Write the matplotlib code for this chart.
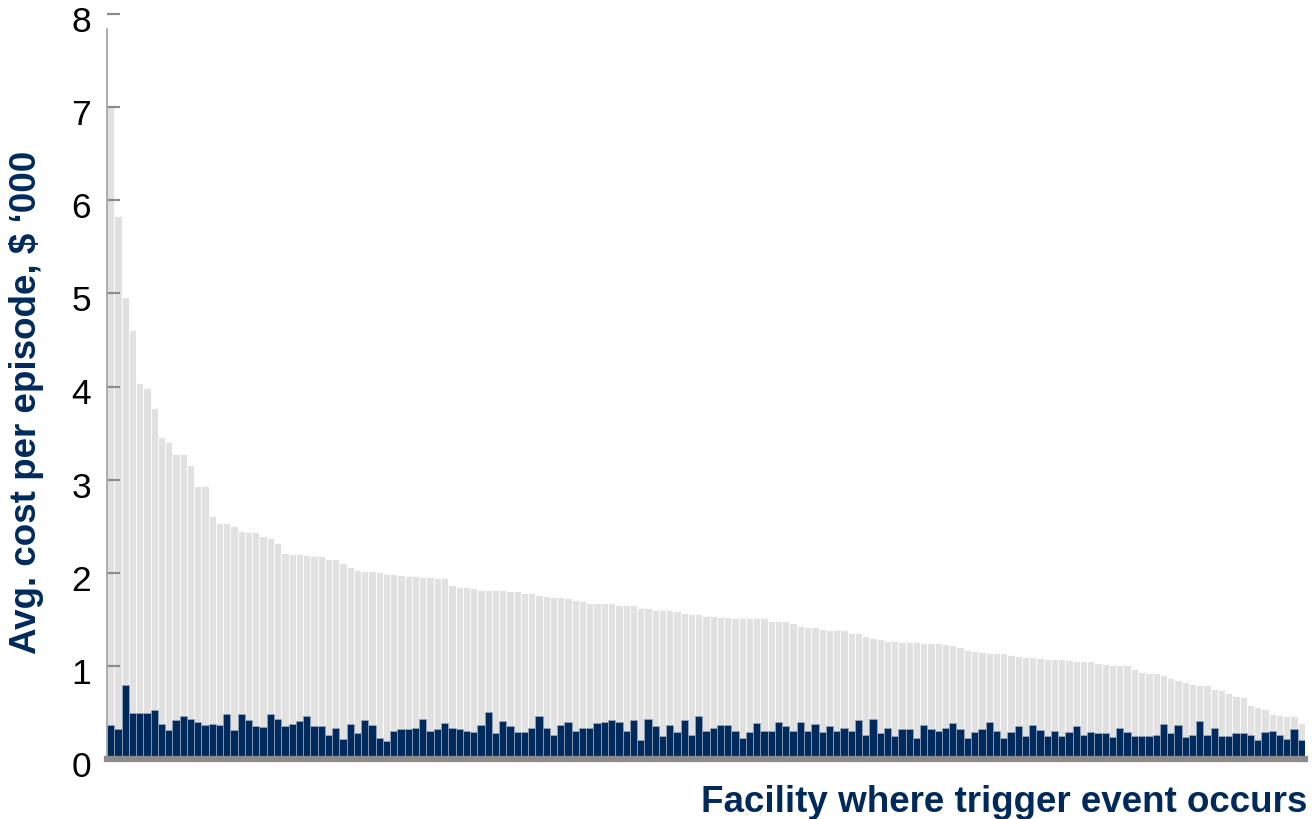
import matplotlib
matplotlib.use("Agg")
import matplotlib.pyplot as plt
import matplotlib.transforms as mtransforms
import numpy as np

# Average cost per episode ($ '000) by facility, sorted descending
total_cost = [7.02, 5.83, 4.96, 4.61, 4.04, 3.98, 3.77, 3.46, 3.40, 3.28, 3.28, 3.16, 2.93, 2.93,
              2.61, 2.53, 2.53, 2.50, 2.45, 2.44, 2.44, 2.39, 2.37, 2.32, 2.21, 2.20, 2.20, 2.19,
              2.18, 2.18, 2.15, 2.15, 2.105, 2.06, 2.03, 2.02, 2.02, 2.01, 1.99, 1.99, 1.98, 1.965,
              1.965, 1.95, 1.95, 1.94, 1.94, 1.87, 1.85, 1.85, 1.84, 1.82, 1.82, 1.82, 1.81, 1.80,
              1.80, 1.78, 1.78, 1.765, 1.75, 1.74, 1.74, 1.726, 1.71, 1.70, 1.68, 1.68, 1.68, 1.67,
              1.65, 1.65, 1.65, 1.625, 1.625, 1.60, 1.60, 1.60, 1.59, 1.57, 1.56, 1.56, 1.54, 1.54,
              1.53, 1.53, 1.51, 1.51, 1.51, 1.51, 1.51, 1.485, 1.485, 1.485, 1.46, 1.43, 1.42, 1.42,
              1.40, 1.386, 1.386, 1.386, 1.35, 1.35, 1.32, 1.30, 1.29, 1.27, 1.27, 1.26, 1.26, 1.26,
              1.246, 1.246, 1.246, 1.235, 1.22, 1.20, 1.17, 1.16, 1.15, 1.135, 1.135, 1.135, 1.12,
              1.106, 1.09, 1.09, 1.085, 1.077, 1.077, 1.077, 1.063, 1.053, 1.05, 1.05, 1.035, 1.02,
              1.006, 1.006, 1.006, 0.963, 0.934, 0.92, 0.92, 0.906, 0.866, 0.852, 0.823, 0.81, 0.795,
              0.795, 0.752, 0.737, 0.709, 0.68, 0.666, 0.583, 0.555, 0.54, 0.487, 0.47, 0.458, 0.458,
              0.39]

trigger_cost = [0.36, 0.32, 0.80, 0.49, 0.49, 0.49, 0.53, 0.38, 0.31, 0.42, 0.46, 0.43, 0.40, 0.36,
                0.38, 0.36, 0.48, 0.31, 0.48, 0.42, 0.35, 0.34, 0.48, 0.43, 0.35, 0.38, 0.405, 0.46,
                0.35, 0.35, 0.26, 0.33, 0.22, 0.38, 0.28, 0.42, 0.36, 0.23, 0.19, 0.30, 0.32, 0.32,
                0.33, 0.43, 0.30, 0.32, 0.39, 0.33, 0.32, 0.30, 0.29, 0.36, 0.50, 0.28, 0.405, 0.35,
                0.29, 0.29, 0.33, 0.46, 0.33, 0.26, 0.36, 0.40, 0.30, 0.33, 0.33, 0.39, 0.40, 0.415,
                0.40, 0.30, 0.415, 0.20, 0.43, 0.35, 0.25, 0.37, 0.29, 0.415, 0.26, 0.46, 0.30, 0.33,
                0.36, 0.36, 0.30, 0.23, 0.29, 0.39, 0.30, 0.30, 0.40, 0.35, 0.30, 0.40, 0.30, 0.376,
                0.29, 0.35, 0.30, 0.33, 0.30, 0.415, 0.26, 0.43, 0.276, 0.33, 0.247, 0.32, 0.32, 0.23,
                0.36, 0.32, 0.30, 0.33, 0.39, 0.32, 0.23, 0.29, 0.32, 0.40, 0.30, 0.23, 0.29, 0.35,
                0.247, 0.36, 0.31, 0.247, 0.30, 0.247, 0.29, 0.35, 0.26, 0.29, 0.276, 0.276, 0.233,
                0.33, 0.29, 0.247, 0.247, 0.247, 0.26, 0.376, 0.276, 0.36, 0.233, 0.26, 0.405, 0.26,
                0.33, 0.247, 0.247, 0.276, 0.276, 0.26, 0.204, 0.29, 0.30, 0.26, 0.218, 0.32, 0.204]

y_ticks = [0, 1, 2, 3, 4, 5, 6, 7, 8]
y_label = "Avg. cost per episode, $ \u2018000"
x_label = "Facility where trigger event occurs"

NAVY = "#002a5c"
GRAY = "#e1e1e1"
AXIS_GRAY = "#8c8c8c"

plt.rcParams['font.family'] = ['Liberation Sans', 'DejaVu Sans']

fig = plt.figure(figsize=(13.12, 8.2), dpi=100)
ax = fig.add_axes([107/1312, 1 - 760/820, (1305 - 107)/1312, (760 - 15)/820])

n = min(len(total_cost), len(trigger_cost))
x = np.arange(n)
ax.bar(x, total_cost[:n], width=1.0, color=GRAY, edgecolor="white", linewidth=0.6, zorder=1)
ax.bar(x, trigger_cost[:n], width=1.0, color=NAVY, edgecolor="#9aa8c0", linewidth=0.5, zorder=1.5)

ax.set_xlim(-0.5, n - 0.5)
ax.set_ylim(0, 8)
ax.set_yticks(y_ticks)
ax.set_yticklabels([str(t) for t in y_ticks], fontsize=25.5, color="black")
ax.tick_params(axis='y', direction='in', length=9.5, width=1.6, color=AXIS_GRAY, pad=11.5)
ax.set_xticks([])
offset = mtransforms.ScaledTranslation(0, -4/100, fig.dpi_scale_trans)
for lbl in ax.get_yticklabels():
    lbl.set_transform(lbl.get_transform() + offset)

for s in ["top", "right"]:
    ax.spines[s].set_visible(False)
ax.spines["left"].set_color("#a0a0a0")
ax.spines["left"].set_linewidth(1.2)
ax.spines["left"].set_bounds(0, 7.84)
ax.spines["bottom"].set_color(AXIS_GRAY)
ax.spines["bottom"].set_linewidth(4.5)
ax.spines["bottom"].set_zorder(3)

fig.text(27/1312, 1 - 402/820, y_label, rotation=90, ha="center", va="center",
         fontsize=26.5, fontweight="bold", color=NAVY)
fig.text(1307/1312, 1 - 812/820, x_label, ha="right", va="baseline",
         fontsize=26.5, fontweight="bold", color=NAVY)

fig.savefig("out.png", dpi=100)
